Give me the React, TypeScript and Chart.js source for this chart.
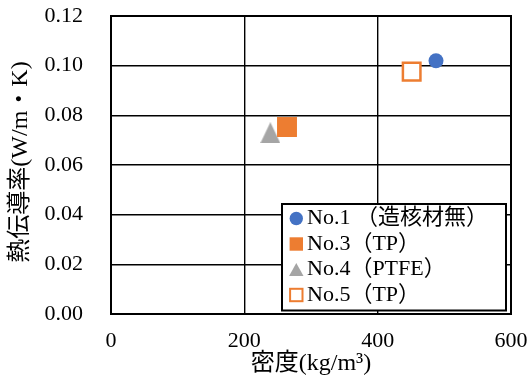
import React, { useEffect, useRef } from 'react';
import { Chart, registerables } from 'chart.js';

Chart.register(...registerables);

// ---- data ----
const seriesNames = ['No.1 （造核材無）', 'No.3（TP）', 'No.4（PTFE）', 'No.5（TP）'];
const no1Density = [487.5];
const no1Conductivity = [0.102];
const no3Density = [264];
const no3Conductivity = [0.0753];
const no4Density = [239];
const no4Conductivity = [0.073];
const no5Density = [451];
const no5Conductivity = [0.0976];
const xTickValues = [0, 200, 400, 600];
const yTickValues = [0, 0.02, 0.04, 0.06, 0.08, 0.1, 0.12];
const xTitle = '密度(kg/m³)';
const yTitle = ' 熱伝導率(W/m・K)';

const BLUE = '#4472C4';
const ORANGE = '#ED7D31';
const GRAY = '#A5A5A5';
const FONT = "'Liberation Serif', 'Times New Roman', 'Noto Sans CJK JP', serif";

function toPoints(xs: number[], ys: number[]) {
  return xs.map((x, i) => ({ x, y: ys[i] }));
}

function makeTriangle(w: number, h: number, color: string) {
  const c = document.createElement('canvas');
  c.width = w;
  c.height = h;
  const g = c.getContext('2d')!;
  g.fillStyle = color;
  g.beginPath();
  g.moveTo(w / 2, 0);
  g.lineTo(w, h);
  g.lineTo(0, h);
  g.closePath();
  g.fill();
  return c;
}

function zeroPadding(s: any) {
  s.paddingTop = 0;
  s.paddingBottom = 0;
  s.paddingLeft = 0;
  s.paddingRight = 0;
}

const legendPlugin = {
  id: 'boxLegend',
  afterDatasetsDraw(chart: any) {
    const ctx = chart.ctx as CanvasRenderingContext2D;
    const { chartArea } = chart;
    ctx.save();
    // legend box
    const bx = 282, by = 204, bw = 224, bh = 106.5;
    ctx.fillStyle = '#fff';
    ctx.fillRect(bx, by, bw, bh);
    ctx.strokeStyle = '#000';
    ctx.lineWidth = 2;
    ctx.strokeRect(bx, by, bw, bh);
    const mx = 296.3;
    const rows = [218.5, 244, 269.5, 295];
    // markers
    ctx.fillStyle = BLUE;
    ctx.beginPath();
    ctx.arc(mx, rows[0], 6.7, 0, Math.PI * 2);
    ctx.fill();
    ctx.fillStyle = ORANGE;
    ctx.fillRect(mx - 6.7, rows[1] - 6.7, 13.4, 13.4);
    ctx.fillStyle = GRAY;
    ctx.beginPath();
    ctx.moveTo(mx, rows[2] - 6.5);
    ctx.lineTo(mx + 7.2, rows[2] + 6.5);
    ctx.lineTo(mx - 7.2, rows[2] + 6.5);
    ctx.closePath();
    ctx.fill();
    ctx.fillStyle = '#fff';
    ctx.fillRect(mx - 6.2, rows[3] - 6.2, 12.4, 12.4);
    ctx.strokeStyle = ORANGE;
    ctx.lineWidth = 2;
    ctx.strokeRect(mx - 6.2, rows[3] - 6.2, 12.4, 12.4);
    // labels
    ctx.fillStyle = '#000';
    ctx.font = `22px ${FONT}`;
    ctx.textAlign = 'left';
    ctx.textBaseline = 'middle';
    seriesNames.forEach((name, i) => ctx.fillText(name, 307, rows[i]));
    // plot border
    ctx.strokeStyle = '#000';
    ctx.lineWidth = 2;
    ctx.strokeRect(chartArea.left, chartArea.top, chartArea.right - chartArea.left, chartArea.bottom - chartArea.top);
    ctx.restore();
  },
};

export default function App() {
  const ref = useRef<HTMLCanvasElement>(null);
  useEffect(() => {
    const canvas = ref.current!;
    const tri = makeTriangle(20, 21, GRAY);
    const chart = new Chart(canvas, {
      type: 'scatter',
      data: {
        datasets: [
          {
            label: seriesNames[0],
            data: toPoints(no1Density, no1Conductivity),
            pointStyle: 'circle',
            pointRadius: 7.5,
            backgroundColor: BLUE,
            borderColor: BLUE,
            borderWidth: 0,
          },
          {
            label: seriesNames[1],
            data: toPoints(no3Density, no3Conductivity),
            pointStyle: 'rect',
            pointRadius: 14.1,
            backgroundColor: ORANGE,
            borderColor: ORANGE,
            borderWidth: 0,
          },
          {
            label: seriesNames[2],
            data: toPoints(no4Density, no4Conductivity),
            pointStyle: tri,
            pointRadius: 10,
            backgroundColor: GRAY,
          },
          {
            label: seriesNames[3],
            data: toPoints(no5Density, no5Conductivity),
            pointStyle: 'rect',
            pointRadius: 12.4,
            backgroundColor: '#fff',
            borderColor: ORANGE,
            borderWidth: 2.5,
          },
        ],
      },
      options: {
        responsive: false,
        animation: false,
        events: [],
        layout: { padding: { top: 16, right: 20, left: 0, bottom: 0 }, autoPadding: false },
        plugins: { legend: { display: false }, tooltip: { enabled: false } },
        scales: {
          x: {
            type: 'linear',
            min: 0,
            max: 600,
            afterBuildTicks: (s: any) => {
              s.ticks = xTickValues.map((v) => ({ value: v }));
            },
            afterFit: (s: any) => {
              s.height = 71;
              zeroPadding(s);
            },
            grid: { color: '#000', lineWidth: 1.4, drawTicks: false },
            border: { display: false },
            ticks: { padding: 14, color: '#000', font: { size: 22, family: FONT }, maxRotation: 0 },
            title: {
              display: true,
              text: xTitle,
              color: '#000',
              font: { size: 24, family: FONT },
              padding: { top: 0, bottom: 7 },
            },
          },
          y: {
            type: 'linear',
            min: 0,
            max: 0.12,
            afterBuildTicks: (s: any) => {
              s.ticks = yTickValues.map((v) => ({ value: v }));
            },
            afterFit: (s: any) => {
              s.width = 111;
              zeroPadding(s);
            },
            grid: { color: '#000', lineWidth: 1.4, drawTicks: false },
            border: { display: false },
            ticks: {
              padding: 28,
              color: '#000',
              font: { size: 22, family: FONT },
              callback: (v: any) => Number(v).toFixed(2),
            },
            title: {
              display: true,
              text: yTitle,
              color: '#000',
              font: { size: 24, family: FONT },
              padding: { top: 6, bottom: 0 },
            },
          },
        },
      },
      plugins: [legendPlugin],
    });
    return () => chart.destroy();
  }, []);
  return (
    <div style={{ position: 'fixed', left: 0, top: 0, width: 531, height: 385, background: '#fff' }}>
      <canvas ref={ref} width={531} height={385} style={{ display: 'block' }} />
    </div>
  );
}
